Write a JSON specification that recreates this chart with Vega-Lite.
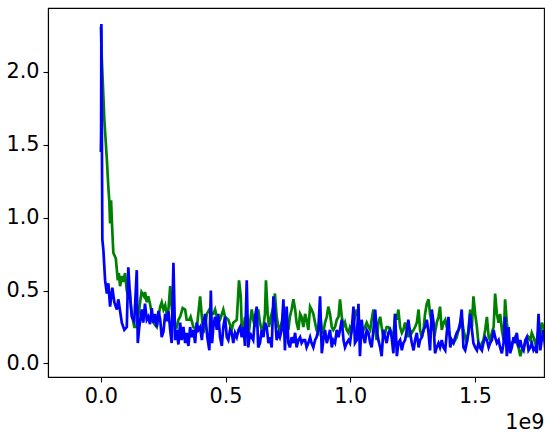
{
  "$schema": "https://vega.github.io/schema/vega-lite/v6.json",
  "autosize": {"type": "none"},
  "padding": {"left": 48, "top": 8, "right": 8, "bottom": 59},
  "width": 496,
  "height": 369,
  "background": "white",
  "config": {
    "view": {"stroke": "black", "strokeWidth": 1.1},
    "font": "DejaVu Sans",
    "axis": {
      "grid": false,
      "domainColor": "black",
      "domainWidth": 1.1,
      "tickColor": "black",
      "tickWidth": 1.1,
      "tickSize": 5,
      "labelColor": "black",
      "labelFont": "DejaVu Sans",
      "labelFontSize": 20.8,
      "labelPadding": 4,
      "labelFlush": false,
      "titleColor": "black",
      "titleFont": "DejaVu Sans",
      "titleFontSize": 20.8,
      "titleFontWeight": "normal"
    }
  },
  "datasets": {
    "green": [
      {"x":0,"y":2.31},{"x":0.004,"y":2.08},{"x":0.014,"y":1.67},{"x":0.024,"y":1.40},{"x":0.030,"y":1.21},{"x":0.034,"y":1.11},{"x":0.037,"y":0.96},{"x":0.041,"y":1.12},{"x":0.044,"y":0.98},{"x":0.050,"y":0.76},{"x":0.060,"y":0.72},{"x":0.068,"y":0.57},{"x":0.072,"y":0.62},{"x":0.077,"y":0.53},{"x":0.084,"y":0.60},{"x":0.090,"y":0.56},{"x":0.097,"y":0.62},{"x":0.104,"y":0.50},{"x":0.110,"y":0.46},{"x":0.117,"y":0.48},{"x":0.121,"y":0.39},{"x":0.126,"y":0.32},{"x":0.134,"y":0.25},{"x":0.144,"y":0.25},{"x":0.155,"y":0.39},{"x":0.163,"y":0.49},{"x":0.173,"y":0.46},{"x":0.177,"y":0.49},{"x":0.184,"y":0.42},{"x":0.190,"y":0.46},{"x":0.197,"y":0.41},{"x":0.211,"y":0.28},{"x":0.224,"y":0.25},{"x":0.238,"y":0.39},{"x":0.244,"y":0.42},{"x":0.251,"y":0.37},{"x":0.258,"y":0.40},{"x":0.264,"y":0.34},{"x":0.271,"y":0.37},{"x":0.278,"y":0.53},{"x":0.284,"y":0.39},{"x":0.291,"y":0.28},{"x":0.304,"y":0.25},{"x":0.311,"y":0.30},{"x":0.318,"y":0.32},{"x":0.328,"y":0.38},{"x":0.338,"y":0.37},{"x":0.344,"y":0.30},{"x":0.355,"y":0.30},{"x":0.360,"y":0.32},{"x":0.371,"y":0.25},{"x":0.384,"y":0.23},{"x":0.398,"y":0.46},{"x":0.405,"y":0.32},{"x":0.411,"y":0.21},{"x":0.418,"y":0.25},{"x":0.425,"y":0.34},{"x":0.435,"y":0.37},{"x":0.445,"y":0.34},{"x":0.451,"y":0.34},{"x":0.458,"y":0.37},{"x":0.465,"y":0.32},{"x":0.471,"y":0.28},{"x":0.478,"y":0.30},{"x":0.491,"y":0.37},{"x":0.498,"y":0.32},{"x":0.511,"y":0.30},{"x":0.525,"y":0.23},{"x":0.531,"y":0.28},{"x":0.545,"y":0.30},{"x":0.554,"y":0.57},{"x":0.561,"y":0.46},{"x":0.565,"y":0.25},{"x":0.572,"y":0.23},
      {"x":0.578,"y":0.32},{"x":0.585,"y":0.23},{"x":0.591,"y":0.18},{"x":0.598,"y":0.28},{"x":0.605,"y":0.37},{"x":0.611,"y":0.30},{"x":0.618,"y":0.25},{"x":0.625,"y":0.32},{"x":0.631,"y":0.37},{"x":0.638,"y":0.28},{"x":0.645,"y":0.23},{"x":0.652,"y":0.25},{"x":0.658,"y":0.34},{"x":0.662,"y":0.57},{"x":0.669,"y":0.34},{"x":0.674,"y":0.25},{"x":0.682,"y":0.32},{"x":0.692,"y":0.39},{"x":0.698,"y":0.48},{"x":0.705,"y":0.32},{"x":0.712,"y":0.25},{"x":0.718,"y":0.23},{"x":0.725,"y":0.28},{"x":0.732,"y":0.32},{"x":0.738,"y":0.34},{"x":0.745,"y":0.30},{"x":0.752,"y":0.23},{"x":0.758,"y":0.32},{"x":0.765,"y":0.37},{"x":0.772,"y":0.44},{"x":0.779,"y":0.37},{"x":0.785,"y":0.28},{"x":0.792,"y":0.23},{"x":0.799,"y":0.34},{"x":0.805,"y":0.32},{"x":0.812,"y":0.25},{"x":0.819,"y":0.34},{"x":0.825,"y":0.30},{"x":0.832,"y":0.23},{"x":0.839,"y":0.39},{"x":0.845,"y":0.37},{"x":0.852,"y":0.34},{"x":0.859,"y":0.28},{"x":0.865,"y":0.23},{"x":0.872,"y":0.21},
      {"x":0.879,"y":0.34},{"x":0.886,"y":0.23},{"x":0.892,"y":0.21},{"x":0.899,"y":0.28},{"x":0.906,"y":0.32},{"x":0.912,"y":0.39},{"x":0.919,"y":0.34},{"x":0.926,"y":0.25},{"x":0.932,"y":0.23},{"x":0.939,"y":0.25},{"x":0.946,"y":0.30},{"x":0.953,"y":0.32},{"x":0.959,"y":0.44},{"x":0.966,"y":0.32},{"x":0.973,"y":0.25},{"x":0.979,"y":0.28},{"x":0.986,"y":0.23},{"x":0.993,"y":0.21},{"x":0.999,"y":0.25},{"x":1.006,"y":0.23},{"x":1.013,"y":0.28},{"x":1.019,"y":0.32},{"x":1.026,"y":0.37},{"x":1.033,"y":0.32},{"x":1.039,"y":0.23},{"x":1.046,"y":0.21},{"x":1.053,"y":0.23},{"x":1.059,"y":0.25},{"x":1.066,"y":0.28},{"x":1.073,"y":0.25},{"x":1.080,"y":0.23},{"x":1.086,"y":0.30},{"x":1.093,"y":0.37},{"x":1.100,"y":0.23},{"x":1.106,"y":0.16},{"x":1.113,"y":0.28},{"x":1.120,"y":0.32},{"x":1.126,"y":0.25},{"x":1.133,"y":0.18},{"x":1.140,"y":0.21},{"x":1.146,"y":0.25},{"x":1.153,"y":0.25},{"x":1.160,"y":0.23},{"x":1.166,"y":0.21},{"x":1.173,"y":0.18},
      {"x":1.180,"y":0.34},{"x":1.187,"y":0.30},{"x":1.193,"y":0.37},{"x":1.200,"y":0.25},{"x":1.207,"y":0.21},{"x":1.213,"y":0.23},{"x":1.220,"y":0.28},{"x":1.227,"y":0.23},{"x":1.233,"y":0.18},{"x":1.240,"y":0.23},{"x":1.247,"y":0.21},{"x":1.254,"y":0.23},{"x":1.260,"y":0.25},{"x":1.267,"y":0.28},{"x":1.274,"y":0.37},{"x":1.280,"y":0.23},{"x":1.287,"y":0.18},{"x":1.294,"y":0.23},{"x":1.300,"y":0.34},{"x":1.307,"y":0.41},{"x":1.314,"y":0.44},{"x":1.320,"y":0.34},{"x":1.327,"y":0.28},{"x":1.334,"y":0.23},{"x":1.340,"y":0.21},{"x":1.347,"y":0.28},{"x":1.354,"y":0.32},{"x":1.360,"y":0.39},{"x":1.367,"y":0.23},{"x":1.374,"y":0.28},{"x":1.381,"y":0.30},{"x":1.387,"y":0.25},{"x":1.394,"y":0.23},{"x":1.401,"y":0.18},{"x":1.407,"y":0.16},{"x":1.414,"y":0.14},{"x":1.421,"y":0.16},{"x":1.427,"y":0.18},{"x":1.434,"y":0.23},{"x":1.441,"y":0.25},{"x":1.447,"y":0.32},{"x":1.454,"y":0.23},{"x":1.461,"y":0.18},{"x":1.467,"y":0.14},{"x":1.474,"y":0.23},
      {"x":1.481,"y":0.37},{"x":1.488,"y":0.25},{"x":1.494,"y":0.46},{"x":1.501,"y":0.34},{"x":1.508,"y":0.25},{"x":1.514,"y":0.14},{"x":1.521,"y":0.11},{"x":1.528,"y":0.14},{"x":1.534,"y":0.16},{"x":1.541,"y":0.23},{"x":1.548,"y":0.32},{"x":1.555,"y":0.18},{"x":1.561,"y":0.16},{"x":1.568,"y":0.21},{"x":1.575,"y":0.25},{"x":1.581,"y":0.48},{"x":1.588,"y":0.34},{"x":1.595,"y":0.28},{"x":1.601,"y":0.34},{"x":1.608,"y":0.23},{"x":1.615,"y":0.16},{"x":1.621,"y":0.44},{"x":1.628,"y":0.28},{"x":1.635,"y":0.16},{"x":1.641,"y":0.11},{"x":1.648,"y":0.14},{"x":1.655,"y":0.16},{"x":1.661,"y":0.18},{"x":1.668,"y":0.14},{"x":1.675,"y":0.11},{"x":1.682,"y":0.05},{"x":1.688,"y":0.09},{"x":1.695,"y":0.11},{"x":1.702,"y":0.14},{"x":1.708,"y":0.16},{"x":1.715,"y":0.18},{"x":1.722,"y":0.16},{"x":1.728,"y":0.21},{"x":1.735,"y":0.18},{"x":1.742,"y":0.14},{"x":1.748,"y":0.16},{"x":1.755,"y":0.23},{"x":1.762,"y":0.18},{"x":1.768,"y":0.28},{"x":1.775,"y":0.25},{"x":1.785,"y":0.20}
    ],
    "blue": [
      {"x":0,"y":1.45},{"x":0.001,"y":1.6},{"x":0.002,"y":2.33},{"x":0.006,"y":0.85},{"x":0.010,"y":0.78},{"x":0.017,"y":0.57},{"x":0.024,"y":0.48},{"x":0.030,"y":0.55},{"x":0.037,"y":0.39},{"x":0.046,"y":0.52},{"x":0.054,"y":0.42},{"x":0.064,"y":0.37},{"x":0.070,"y":0.44},{"x":0.084,"y":0.28},{"x":0.094,"y":0.23},{"x":0.104,"y":0.25},{"x":0.110,"y":0.66},{"x":0.117,"y":0.46},{"x":0.124,"y":0.32},{"x":0.134,"y":0.29},{"x":0.144,"y":0.64},{"x":0.148,"y":0.14},{"x":0.154,"y":0.25},{"x":0.164,"y":0.37},{"x":0.170,"y":0.28},{"x":0.177,"y":0.41},{"x":0.184,"y":0.30},{"x":0.190,"y":0.32},{"x":0.197,"y":0.27},{"x":0.204,"y":0.38},{"x":0.210,"y":0.28},{"x":0.217,"y":0.34},{"x":0.224,"y":0.25},{"x":0.231,"y":0.36},{"x":0.238,"y":0.30},{"x":0.244,"y":0.18},{"x":0.251,"y":0.22},{"x":0.258,"y":0.34},{"x":0.264,"y":0.29},{"x":0.271,"y":0.36},{"x":0.278,"y":0.23},{"x":0.284,"y":0.14},{"x":0.291,"y":0.69},{"x":0.298,"y":0.16},{"x":0.304,"y":0.23},{"x":0.311,"y":0.13},{"x":0.318,"y":0.28},{"x":0.324,"y":0.16},{"x":0.331,"y":0.25},{"x":0.338,"y":0.14},{"x":0.344,"y":0.21},{"x":0.351,"y":0.12},{"x":0.358,"y":0.25},{"x":0.364,"y":0.18},{"x":0.371,"y":0.23},{"x":0.378,"y":0.14},{"x":0.384,"y":0.28},{"x":0.391,"y":0.23},{"x":0.398,"y":0.25},{"x":0.405,"y":0.16},{"x":0.411,"y":0.28},{"x":0.418,"y":0.34},{"x":0.427,"y":0.18},{"x":0.435,"y":0.09},{"x":0.441,"y":0.50},{"x":0.446,"y":0.14},{"x":0.451,"y":0.25},{"x":0.458,"y":0.32},{"x":0.465,"y":0.23},{"x":0.471,"y":0.34},{"x":0.478,"y":0.18},{"x":0.485,"y":0.12},{"x":0.491,"y":0.25},{"x":0.498,"y":0.32},{"x":0.505,"y":0.18},{"x":0.511,"y":0.16},{"x":0.518,"y":0.23},{"x":0.525,"y":0.21},{"x":0.531,"y":0.14},{"x":0.538,"y":0.21},{"x":0.545,"y":0.18},{"x":0.552,"y":0.23},{"x":0.558,"y":0.25},{"x":0.565,"y":0.18},{"x":0.572,"y":0.25},{"x":0.578,"y":0.12},
      {"x":0.585,"y":0.57},{"x":0.591,"y":0.11},{"x":0.598,"y":0.21},{"x":0.605,"y":0.18},{"x":0.611,"y":0.16},{"x":0.618,"y":0.32},{"x":0.625,"y":0.39},{"x":0.631,"y":0.11},{"x":0.638,"y":0.14},{"x":0.645,"y":0.23},{"x":0.652,"y":0.18},{"x":0.658,"y":0.28},{"x":0.665,"y":0.25},{"x":0.672,"y":0.14},{"x":0.678,"y":0.18},{"x":0.685,"y":0.11},{"x":0.692,"y":0.46},{"x":0.698,"y":0.34},{"x":0.705,"y":0.16},{"x":0.712,"y":0.21},{"x":0.718,"y":0.18},{"x":0.725,"y":0.23},{"x":0.732,"y":0.44},{"x":0.738,"y":0.09},{"x":0.745,"y":0.39},{"x":0.752,"y":0.14},{"x":0.758,"y":0.11},{"x":0.765,"y":0.18},{"x":0.772,"y":0.14},{"x":0.779,"y":0.21},{"x":0.785,"y":0.11},{"x":0.792,"y":0.16},{"x":0.799,"y":0.18},{"x":0.805,"y":0.14},{"x":0.812,"y":0.16},{"x":0.819,"y":0.16},{"x":0.825,"y":0.11},{"x":0.832,"y":0.14},{"x":0.839,"y":0.18},{"x":0.845,"y":0.14},{"x":0.852,"y":0.11},{"x":0.859,"y":0.16},{"x":0.865,"y":0.18},{"x":0.872,"y":0.23},
      {"x":0.879,"y":0.46},{"x":0.886,"y":0.07},{"x":0.892,"y":0.16},{"x":0.899,"y":0.23},{"x":0.906,"y":0.14},{"x":0.912,"y":0.18},{"x":0.919,"y":0.23},{"x":0.926,"y":0.11},{"x":0.932,"y":0.16},{"x":0.939,"y":0.14},{"x":0.946,"y":0.23},{"x":0.953,"y":0.18},{"x":0.959,"y":0.23},{"x":0.966,"y":0.30},{"x":0.973,"y":0.16},{"x":0.979,"y":0.11},{"x":0.986,"y":0.14},{"x":0.993,"y":0.16},{"x":0.999,"y":0.14},{"x":1.006,"y":0.23},{"x":1.013,"y":0.39},{"x":1.019,"y":0.14},{"x":1.026,"y":0.16},{"x":1.033,"y":0.41},{"x":1.039,"y":0.05},{"x":1.046,"y":0.30},{"x":1.053,"y":0.18},{"x":1.059,"y":0.14},{"x":1.066,"y":0.23},{"x":1.073,"y":0.21},{"x":1.080,"y":0.14},{"x":1.086,"y":0.11},{"x":1.093,"y":0.23},{"x":1.100,"y":0.37},{"x":1.106,"y":0.23},{"x":1.113,"y":0.16},{"x":1.120,"y":0.11},{"x":1.126,"y":0.05},{"x":1.133,"y":0.23},{"x":1.140,"y":0.18},{"x":1.146,"y":0.14},{"x":1.153,"y":0.21},{"x":1.160,"y":0.23},{"x":1.166,"y":0.18},{"x":1.173,"y":0.07},
      {"x":1.180,"y":0.34},{"x":1.187,"y":0.05},{"x":1.193,"y":0.14},{"x":1.200,"y":0.16},{"x":1.207,"y":0.09},{"x":1.213,"y":0.14},{"x":1.220,"y":0.16},{"x":1.227,"y":0.23},{"x":1.233,"y":0.30},{"x":1.240,"y":0.21},{"x":1.247,"y":0.14},{"x":1.254,"y":0.09},{"x":1.260,"y":0.16},{"x":1.267,"y":0.21},{"x":1.274,"y":0.11},{"x":1.280,"y":0.16},{"x":1.287,"y":0.18},{"x":1.294,"y":0.23},{"x":1.300,"y":0.25},{"x":1.307,"y":0.30},{"x":1.314,"y":0.21},{"x":1.320,"y":0.09},{"x":1.327,"y":0.37},{"x":1.334,"y":0.28},{"x":1.340,"y":0.07},{"x":1.347,"y":0.11},{"x":1.354,"y":0.14},{"x":1.360,"y":0.11},{"x":1.367,"y":0.16},{"x":1.374,"y":0.11},{"x":1.381,"y":0.09},{"x":1.387,"y":0.21},{"x":1.394,"y":0.32},{"x":1.401,"y":0.11},{"x":1.407,"y":0.16},{"x":1.414,"y":0.14},{"x":1.421,"y":0.18},{"x":1.427,"y":0.21},{"x":1.434,"y":0.23},{"x":1.441,"y":0.28},{"x":1.447,"y":0.37},{"x":1.454,"y":0.11},{"x":1.461,"y":0.09},{"x":1.467,"y":0.14},{"x":1.474,"y":0.21},
      {"x":1.481,"y":0.34},{"x":1.488,"y":0.23},{"x":1.494,"y":0.14},{"x":1.501,"y":0.11},{"x":1.508,"y":0.09},{"x":1.514,"y":0.14},{"x":1.521,"y":0.11},{"x":1.528,"y":0.09},{"x":1.534,"y":0.14},{"x":1.541,"y":0.18},{"x":1.548,"y":0.16},{"x":1.555,"y":0.11},{"x":1.561,"y":0.14},{"x":1.568,"y":0.16},{"x":1.575,"y":0.23},{"x":1.581,"y":0.18},{"x":1.588,"y":0.14},{"x":1.595,"y":0.16},{"x":1.601,"y":0.11},{"x":1.608,"y":0.07},{"x":1.615,"y":0.14},{"x":1.621,"y":0.32},{"x":1.628,"y":0.05},{"x":1.635,"y":0.25},{"x":1.641,"y":0.07},{"x":1.648,"y":0.11},{"x":1.655,"y":0.18},{"x":1.661,"y":0.14},{"x":1.668,"y":0.21},{"x":1.675,"y":0.11},{"x":1.682,"y":0.16},{"x":1.688,"y":0.11},{"x":1.695,"y":0.09},{"x":1.702,"y":0.16},{"x":1.708,"y":0.18},{"x":1.715,"y":0.09},{"x":1.722,"y":0.11},{"x":1.728,"y":0.14},{"x":1.735,"y":0.09},{"x":1.742,"y":0.11},{"x":1.748,"y":0.07},{"x":1.755,"y":0.34},{"x":1.762,"y":0.09},{"x":1.768,"y":0.16},{"x":1.775,"y":0.23},{"x":1.785,"y":0.05}
    ]
  },
  "encoding": {
    "x": {
      "field": "x", "type": "quantitative",
      "scale": {"domain": [-0.212, 1.777], "nice": false, "zero": false},
      "axis": {"values": [0, 0.5, 1, 1.5], "format": ".1f", "title": "1e9", "titleAnchor": "end", "titleAlign": "right", "titlePadding": 7}
    },
    "y": {
      "field": "y", "type": "quantitative",
      "scale": {"domain": [-0.093, 2.439], "nice": false, "zero": false},
      "axis": {"values": [0, 0.5, 1, 1.5, 2], "format": ".1f", "title": null}
    }
  },
  "layer": [
    {"data": {"name": "green"}, "mark": {"type": "line", "color": "#008000", "strokeWidth": 2.7, "clip": true}},
    {"data": {"name": "blue"}, "mark": {"type": "line", "color": "#0000ff", "strokeWidth": 2.7, "clip": true}}
  ]
}
